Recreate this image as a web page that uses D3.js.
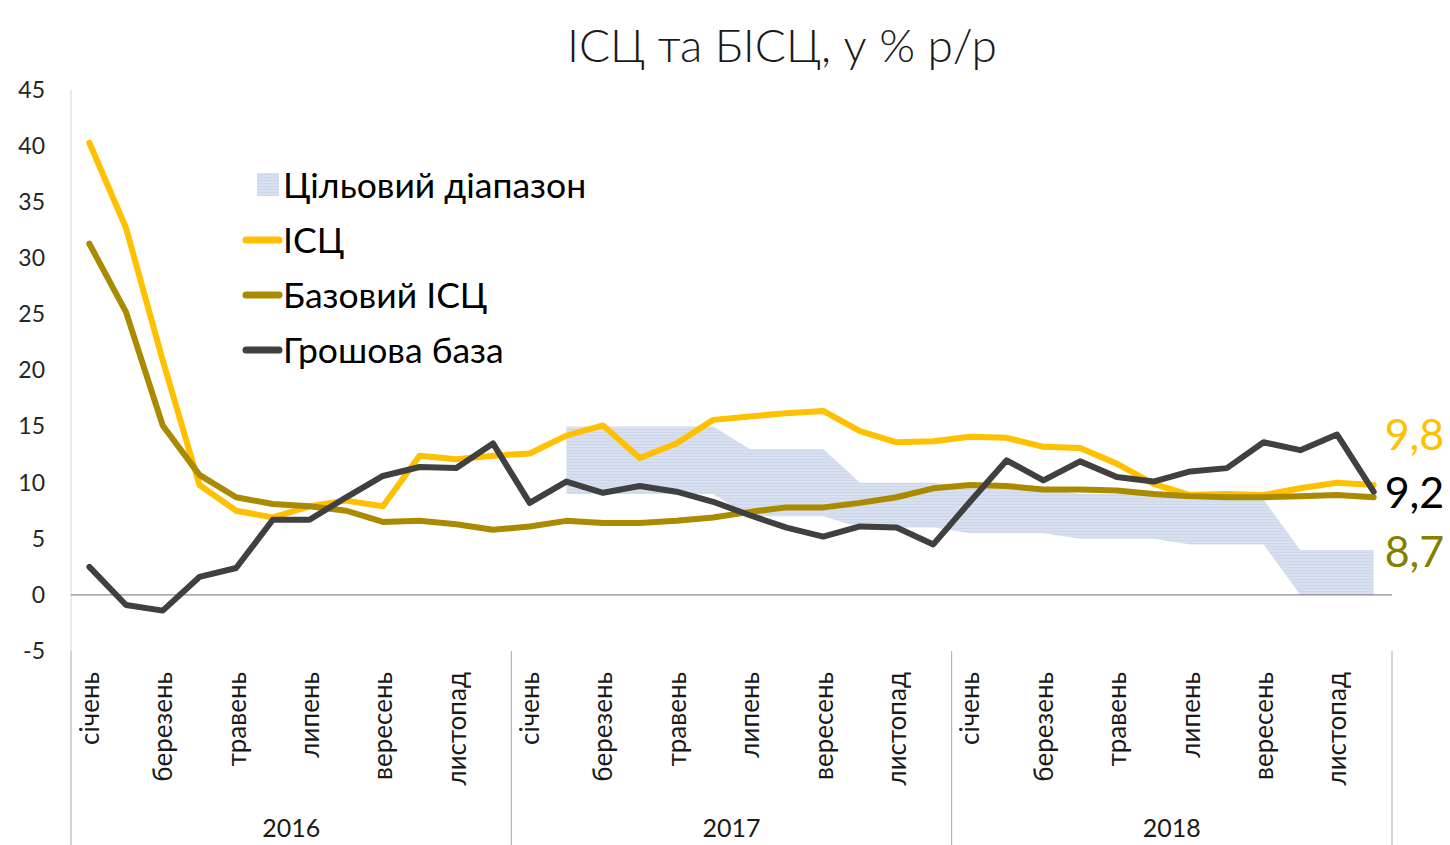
<!DOCTYPE html>
<html>
<head>
<meta charset="utf-8">
<script src="https://cdn.jsdelivr.net/npm/d3@7"></script>
<style>
  body { margin: 0; background: #fff; }
  svg { font-family: Lato, "Noto Sans", sans-serif; }
</style>
</head>
<body>
<div id="chart"></div>
<script>
// Дані
const years = ["2016", "2017", "2018"];
const months = ["січень", "лютий", "березень", "квітень", "травень", "червень",
                "липень", "серпень", "вересень", "жовтень", "листопад", "грудень"];
const yTicks = [-5, 0, 5, 10, 15, 20, 25, 30, 35, 40, 45];

const cpi = [40.3, 32.7, 20.9, 9.8, 7.5, 6.9, 7.9, 8.4, 7.9, 12.4, 12.1, 12.4,
             12.6, 14.2, 15.1, 12.2, 13.5, 15.6, 15.9, 16.2, 16.4, 14.6, 13.6, 13.7,
             14.1, 14.0, 13.2, 13.1, 11.7, 9.9, 8.9, 9.0, 8.9, 9.5, 10.0, 9.8];
const coreCpi = [31.3, 25.2, 15.1, 10.7, 8.7, 8.1, 7.9, 7.5, 6.5, 6.6, 6.3, 5.8,
                 6.1, 6.6, 6.4, 6.4, 6.6, 6.9, 7.4, 7.8, 7.8, 8.2, 8.7, 9.5,
                 9.8, 9.7, 9.4, 9.4, 9.3, 9.0, 8.8, 8.7, 8.7, 8.8, 8.9, 8.7];
const monetaryBase = [2.5, -0.9, -1.4, 1.6, 2.4, 6.7, 6.7, 8.7, 10.6, 11.4, 11.3, 13.5,
                      8.2, 10.1, 9.1, 9.7, 9.2, 8.3, 7.1, 6.0, 5.2, 6.1, 6.0, 4.5,
                      8.3, 12.0, 10.2, 11.9, 10.5, 10.1, 11.0, 11.3, 13.6, 12.9, 14.3, 9.2];
const targetLow = [null, null, null, null, null, null, null, null, null, null, null, null,
                   null, 9, 9, 9, 9, 9, 7, 7, 7, 6, 6, 6,
                   5.5, 5.5, 5.5, 5, 5, 5, 4.5, 4.5, 4.5, 0, 0, 0];
const targetHigh = [null, null, null, null, null, null, null, null, null, null, null, null,
                    null, 15, 15, 15, 15, 15, 13, 13, 13, 10, 10, 10,
                    9.5, 9.5, 9.5, 9, 9, 9, 8.5, 8.5, 8.5, 4, 4, 4];

const lastLabels = ["9,8", "9,2", "8,7"];
const legendNames = ["Цільовий діапазон", "ІСЦ", "Базовий ІСЦ", "Грошова база"];

const colors = {
    cpi: "#FFC000",
    core: "#A98A00",
    base: "#404040",
    band: "#D6DEEF"
};

const width = 1450;
const height = 845;
const plotLeft = 71, plotRight = 1392, plotTop = 90, plotBottom = 651;

const svg = d3.select("#chart").append("svg")
    .attr("width", width)
    .attr("height", height)
    .attr("viewBox", [0, 0, width, height]);

// штрихування для цільового діапазону
const defs = svg.append("defs");
const pat = defs.append("pattern")
    .attr("id", "hatch")
    .attr("patternUnits", "userSpaceOnUse")
    .attr("width", 4).attr("height", 3);
pat.append("rect").attr("width", 4).attr("height", 3).attr("fill", "#D8E0F0");
pat.append("rect").attr("width", 4).attr("height", 1).attr("fill", "#CDD7EB");

// категорії: рік + місяць
const cats = [];
years.forEach(yr => months.forEach(m => cats.push(yr + "-" + m)));

const x = d3.scaleBand()
    .domain(cats)
    .range([plotLeft, plotRight]);
const cx = i => x(cats[i]) + x.bandwidth() / 2;

const y = d3.scaleLinear()
    .domain([-5, 45])
    .range([plotBottom, plotTop]);

// заголовок
svg.append("text")
    .attr("x", 782)
    .attr("y", 62)
    .attr("text-anchor", "middle")
    .attr("font-size", 46)
    .attr("font-weight", 300)
    .attr("fill", "#1a1a1a")
    .text("ІСЦ та БІСЦ, у % р/р");

// цільовий діапазон
const area = d3.area()
    .defined((d, i) => targetLow[i] !== null)
    .x((d, i) => cx(i))
    .y0((d, i) => y(targetLow[i]))
    .y1((d, i) => y(targetHigh[i]));

svg.append("path")
    .datum(cats)
    .attr("fill", "url(#hatch)")
    .attr("d", area);

// вісь Y
svg.append("g")
    .attr("transform", `translate(${plotLeft - 26},0)`)
    .call(d3.axisLeft(y).tickValues(yTicks).tickSize(0).tickFormat(d => String(d)))
    .call(g => g.select(".domain").remove())
    .call(g => g.selectAll("text")
        .attr("font-size", 23)
        .attr("font-family", "Lato, sans-serif")
        .attr("fill", "#262626")
        .attr("x", 0));

svg.append("line")
    .attr("x1", plotLeft).attr("x2", plotLeft)
    .attr("y1", plotTop).attr("y2", plotBottom)
    .attr("stroke", "#d4d4d4").attr("stroke-width", 1);

// нульова лінія
svg.append("line")
    .attr("x1", plotLeft).attr("x2", plotRight)
    .attr("y1", y(0)).attr("y2", y(0))
    .attr("stroke", "#8c8c8c").attr("stroke-width", 1.3);

// лінії
const line = arr => d3.line()
    .x((d, i) => cx(i))
    .y(d => y(d))(arr);

[[cpi, colors.cpi], [coreCpi, colors.core], [monetaryBase, colors.base]].forEach(([arr, c]) => {
    svg.append("path")
        .attr("d", line(arr))
        .attr("fill", "none")
        .attr("stroke", c)
        .attr("stroke-width", 6)
        .attr("stroke-linejoin", "round")
        .attr("stroke-linecap", "round");
});

// вісь X: місяці
const xAxis = svg.append("g")
    .attr("transform", `translate(0,${plotBottom})`)
    .call(d3.axisBottom(x)
        .tickValues(cats.filter((d, i) => i % 2 === 0))
        .tickSize(0)
        .tickFormat(d => d.split("-")[1]))
    .call(g => g.select(".domain").remove());

xAxis.selectAll("text")
    .attr("font-size", 26)
    .attr("font-family", "Lato, sans-serif")
    .attr("fill", "#1a1a1a")
    .attr("text-anchor", "end")
    .attr("transform", "rotate(-90)")
    .attr("x", -21)
    .attr("y", 0)
    .attr("dy", "0.36em");

// роздільники років і підписи
const yearScale = d3.scaleBand().domain(years).range([plotLeft, plotRight]);
svg.append("g")
    .selectAll("line")
    .data(years.concat(["end"]))
    .join("line")
    .attr("x1", d => d === "end" ? plotRight : yearScale(d))
    .attr("x2", d => d === "end" ? plotRight : yearScale(d))
    .attr("y1", plotBottom)
    .attr("y2", height)
    .attr("stroke", "#a6a6a6")
    .attr("stroke-width", 1);

svg.append("g")
    .selectAll("text")
    .data(years)
    .join("text")
    .attr("x", d => yearScale(d) + yearScale.bandwidth() / 2)
    .attr("y", 837)
    .attr("text-anchor", "middle")
    .attr("font-size", 25)
    .attr("fill", "#1a1a1a")
    .text(d => d);

// підписи останніх значень
const lastIdx = cats.length - 1;
const lastColors = [colors.cpi, "#000000", "#857F00"];
const lastY = [450, 508, 567];
svg.append("g")
    .selectAll("text")
    .data(lastLabels)
    .join("text")
    .attr("x", cx(lastIdx) + 11)
    .attr("y", (d, i) => lastY[i])
    .attr("font-size", 43)
    .attr("fill", (d, i) => lastColors[i])
    .text(d => d);

// легенда
const lg = svg.append("g").attr("transform", "translate(243,0)");
const rowY = [198, 253, 308, 363];
lg.append("rect")
    .attr("x", 14).attr("y", 173)
    .attr("width", 22).attr("height", 23)
    .attr("fill", "url(#hatch)");
[colors.cpi, colors.core, colors.base].forEach((c, i) => {
    lg.append("line")
        .attr("x1", 3).attr("x2", 36)
        .attr("y1", rowY[i + 1] - 13).attr("y2", rowY[i + 1] - 13)
        .attr("stroke", c)
        .attr("stroke-width", 7)
        .attr("stroke-linecap", "round");
});
lg.selectAll("text.leg")
    .data(legendNames)
    .join("text")
    .attr("class", "leg")
    .attr("x", 40)
    .attr("y", (d, i) => rowY[i])
    .attr("font-size", 35.5)
    .attr("fill", "#000")
    .text(d => d);
</script>
</body>
</html>
